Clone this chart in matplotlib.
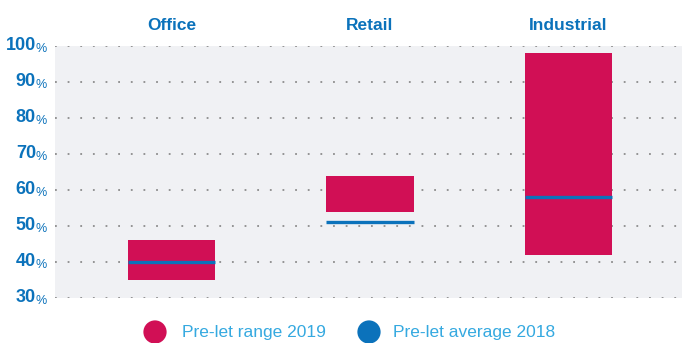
import matplotlib
matplotlib.use("Agg")
import matplotlib.pyplot as plt
import matplotlib.transforms as mtransforms

plt.rcParams['font.family'] = ['Liberation Sans', 'DejaVu Sans']

# pre-let ranges by sector
sectors = ["Office", "Retail", "Industrial"]
range_low = [35, 54, 42]
range_high = [46, 64, 98]
avg_2018 = [40, 51, 58]
yticks = [30, 40, 50, 60, 70, 80, 90, 100]

crimson = "#d10f55"
blue = "#0b72bb"
light_blue = "#35a9e0"

fig = plt.figure(figsize=(6.82, 3.43), dpi=100)
ax = fig.add_axes([0.0806, 0.1312, 0.9194, 0.7347])
ax.set_facecolor("#f0f1f4")

x = list(range(len(sectors)))
w = 0.44
heights = [h - l for l, h in zip(range_low, range_high)]
ax.bar(x, heights, bottom=range_low, width=w, color=crimson, zorder=3)
ax.hlines(avg_2018, [i - w / 2 for i in x], [i + w / 2 for i in x],
          color=blue, linewidth=2.4, zorder=4)

# dotted guides
for t in yticks:
    ax.axhline(t, color="#8c8c8c", linestyle=(0, (1, 6)), linewidth=1.3, zorder=1)

ax.set_xlim(-0.587, 2.572)
ax.set_ylim(30, 100)
ax.set_xticks([])
ax.set_yticks([])
for s in ax.spines.values():
    s.set_visible(False)

# tick labels: bold number with a smaller percent sign
trans = mtransforms.blended_transform_factory(fig.transFigure, ax.transData)
for t in yticks:
    ax.text(36 / 682, t, str(t), transform=trans, ha="right", va="center",
            fontsize=13, fontweight="bold", color=blue, clip_on=False)
    ax.text(35.5 / 682, t - 0.9, "%", transform=trans, ha="left", va="center",
            fontsize=9, color=blue, clip_on=False)

# sector headers
htrans = mtransforms.blended_transform_factory(ax.transData, fig.transFigure)
for i, name in zip(x, sectors):
    ax.text(i, 1 - 25 / 343, name, transform=htrans, ha="center", va="center",
            fontsize=12.5, fontweight="bold", color=blue, clip_on=False)

# legend
ly = 1 - 332 / 343
ax.scatter([155 / 682, 369 / 682], [ly, ly], s=280, color=[crimson, blue],
           transform=fig.transFigure, clip_on=False, linewidths=0)
fig.text(182 / 682, ly, "Pre-let range 2019", color=light_blue, fontsize=12.5,
         ha="left", va="center")
fig.text(393 / 682, ly, "Pre-let average 2018", color=light_blue, fontsize=12.5,
         ha="left", va="center")

fig.savefig("out.png", dpi=100)
